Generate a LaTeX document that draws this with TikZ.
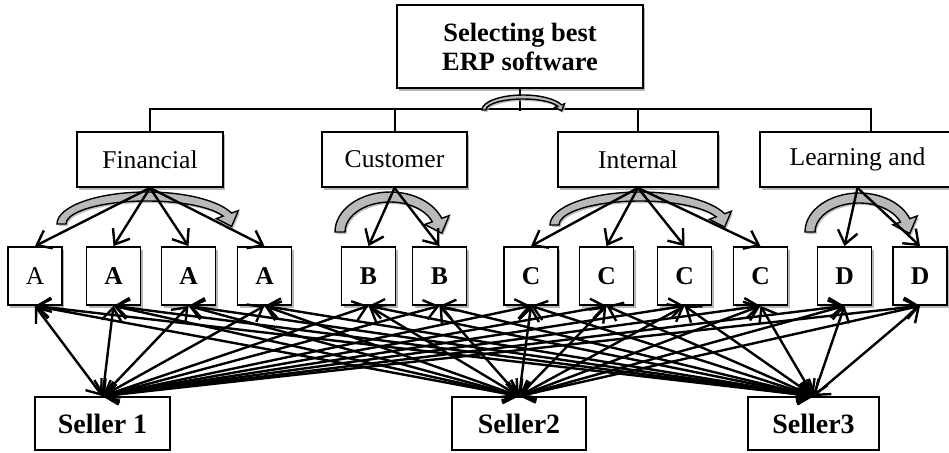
\documentclass[tikz,border=0pt]{standalone}
\usepackage{fontspec}
\setmainfont{Liberation Serif}
\usepackage{tikz}
\usetikzlibrary{arrows.meta, shadows, calc}
\tikzstyle{boxshadow} = [drop shadow={shadow xshift=1.2pt, shadow yshift=-1.4pt, fill=gray!80, opacity=0.7}]
\tikzstyle{goalbox} = [rectangle, draw, line width=0.9pt, fill=white, minimum width=123pt, minimum height=41.5pt, align=center, font=\fontsize{13.2}{14.5}\selectfont\bfseries, boxshadow]
\tikzstyle{catbox} = [rectangle, draw, line width=0.9pt, fill=white, minimum height=27.5pt, inner sep=0pt, font=\fontsize{12.8}{15}\selectfont, boxshadow]
\tikzstyle{altbox} = [rectangle, draw, line width=0.9pt, fill=white, minimum width=27pt, minimum height=29pt, inner sep=0pt, font=\fontsize{12.8}{15}\selectfont\bfseries, boxshadow]
\tikzstyle{sellerbox} = [rectangle, draw, line width=0.9pt, fill=white, minimum height=26.5pt, inner sep=0pt, font=\fontsize{14}{16}\selectfont\bfseries]
\tikzstyle{bendband} = [draw=black, fill=gray!55, line width=0.7pt, drop shadow={shadow xshift=0.8pt, shadow yshift=-1pt, fill=gray!70, opacity=0.7}]
\tikzstyle{catarrow} = [line width=1.2pt, -{Straight Barb[length=6.5pt, width=10pt]}]
\tikzstyle{sellerlink} = [line width=1.2pt, {Straight Barb[length=6.5pt, width=10pt]}-{Straight Barb[length=6.5pt, width=10pt]}]

% hollow curved arrow: centre x, base y, x radius, y radius, thickness
\newcommand{\bendarrow}[5]{%
  \begin{scope}[shift={(#1,#2)}]
    \pgfmathsetmacro{\irx}{#3-#5}
    \pgfmathsetmacro{\iry}{#4-#5}
    \coordinate (bo) at (340:{#3} and {#4});
    \coordinate (bi) at (340:{\irx} and {\iry});
    \filldraw[bendband] (-#3,0) arc[start angle=180, end angle=340, x radius=#3, y radius=#4]
      -- ($(bo)!-0.8!(bi)$) -- ($(bo)!0.5!(bi)!2.8!90:(bi)$) -- ($(bi)!-0.8!(bo)$)
      -- (bi) arc[start angle=340, end angle=180, x radius=\irx, y radius=\iry] -- cycle;
  \end{scope}}

\begin{document}
\begin{tikzpicture}[x=0.5pt, y=-0.5pt]
\useasboundingbox (0,0) rectangle (949,452);

% Goal
\node[goalbox] (goal) at (520,46.5) {Selecting best\\ERP software};

% Perspectives
\node[catbox, minimum width=73pt] (financial) at (150,159.5) {Financial};
\node[catbox, minimum width=72.5pt] (customer) at (394.5,159.5) {Customer};
\node[catbox, minimum width=80pt] (internal) at (638,159.5) {Internal};
\node[catbox, minimum width=97.5pt] (learning) at (857.5,159.5) {Learning and};

% Tree lines
\draw[line width=1pt] (goal.south) -- ++(0,22);
\draw[line width=1pt] (financial.north) -- ++(0,-22) -| ([xshift=6.5pt]learning.north);
\draw[line width=1pt] (customer.north) -- ++(0,-22);
\draw[line width=1pt] (internal.north) -- ++(0,-22);

% Curved arrows
\bendarrow{523}{110}{41}{15}{4}
\bendarrow{147}{224}{90}{32}{9}
\bendarrow{390}{232}{55}{40}{10}
\bendarrow{640}{225}{90}{33}{9}
\bendarrow{859}{232}{54}{39}{10}

% Criteria
\node[altbox, font=\fontsize{12.8}{15}\selectfont] (a1) at (35,276) {A};
\node[altbox] (a2) at (113.5,276) {A};
\node[altbox] (a3) at (188.5,276) {A};
\node[altbox] (a4) at (264.5,276) {A};
\node[altbox] (b1) at (368.5,276) {B};
\node[altbox] (b2) at (439.5,276) {B};
\node[altbox] (c1) at (531,276) {C};
\node[altbox] (c2) at (606.5,276) {C};
\node[altbox] (c3) at (684.5,276) {C};
\node[altbox] (c4) at (760.5,276) {C};
\node[altbox] (d1) at (844.5,276) {D};
\node[altbox] (d2) at (920,276) {D};

% Sellers
\node[sellerbox, minimum width=67.5pt] (seller1) at (102.5,423.5) {Seller 1};
\node[sellerbox, minimum width=67pt] (seller2) at (519,423.5) {Seller2};
\node[sellerbox, minimum width=65.5pt] (seller3) at (813.5,423.5) {Seller3};

% Perspective to criteria
\foreach \b in {a1,a2,a3,a4} \draw[catarrow] (financial.south) -- (\b.north);
\foreach \b in {b1,b2} \draw[catarrow] (customer.south) -- (\b.north);
\foreach \b in {c1,c2,c3,c4} \draw[catarrow] (internal.south) -- (\b.north);
\foreach \b in {d1,d2} \draw[catarrow] (learning.south) -- (\b.north);

% Sellers to criteria
\foreach \s in {seller1,seller2,seller3}
  \foreach \b in {a1,a2,a3,a4,b1,b2,c1,c2,c3,c4,d1,d2}
    \draw[sellerlink] (\s.north) -- (\b.south);
\end{tikzpicture}
\end{document}
